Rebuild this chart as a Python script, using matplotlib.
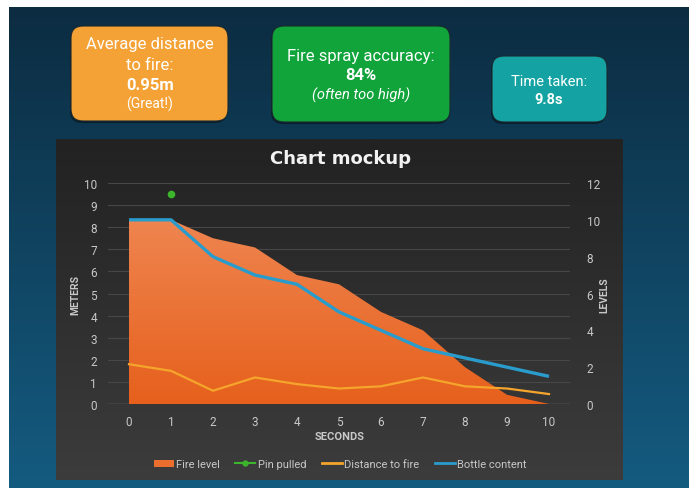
import numpy as np
import matplotlib
matplotlib.use('Agg')
import matplotlib.pyplot as plt
from matplotlib.colors import LinearSegmentedColormap
from matplotlib.patches import FancyBboxPatch, Patch
from matplotlib.lines import Line2D

plt.rcParams['font.family'] = ['Roboto', 'DejaVu Sans']

W, H = 689, 489

seconds = list(range(11))
fire_level = [10, 10, 9, 8.5, 7, 6.5, 5, 4, 2, 0.5, 0]          # right axis (levels)
bottle_content = [10, 10, 8, 7, 6.5, 5, 4, 3, 2.5, 2, 1.5]      # right axis (levels)
distance_to_fire = [1.8, 1.5, 0.6, 1.2, 0.9, 0.7, 0.8, 1.2, 0.8, 0.7, 0.45]  # left axis (m)
pin_seconds = [1]
pin_meters = [9.5]

left_ticks = list(range(0, 11))
right_ticks = list(range(0, 13, 2))

TEXT = '#c8c8c8'
ORANGE_BOX = '#f4a236'
GREEN_BOX = '#10a43b'
TEAL_BOX = '#14a3a2'
FIRE_TOP = '#ef8550'
FIRE_BOT = '#e6601c'
BOTTLE = '#2a9ccc'
DIST = '#f5a52c'
PIN = '#3cb52c'


def px_rect(x0, y0, x1, y1):
    return [x0 / W, 1 - y1 / H, (x1 - x0) / W, (y1 - y0) / H]


fig = plt.figure(figsize=(W / 100, H / 100), dpi=100)
fig.patch.set_facecolor('white')

grad = np.linspace(0, 1, 256).reshape(-1, 1)

# page background
bg = fig.add_axes(px_rect(9, 8, 689, 489), zorder=0)
bg.axis('off')
bg.imshow(grad, aspect='auto', origin='upper', extent=[0, 1, 0, 1],
          cmap=LinearSegmentedColormap.from_list('bg', ['#0c2c41', '#145b80']))

# dark chart panel
panel = fig.add_axes(px_rect(56, 140, 623, 481), zorder=1)
panel.axis('off')
panel.imshow(grad, aspect='auto', origin='upper', extent=[0, 1, 0, 1],
             cmap=LinearSegmentedColormap.from_list('pn', ['#222222', '#3c3c3c']))

# overlay in pixel coords for boxes and free text
ov = fig.add_axes([0, 0, 1, 1], zorder=2)
ov.set_xlim(0, W)
ov.set_ylim(H, 0)
ov.axis('off')
ov.patch.set_visible(False)


def kpi_box(x0, y0, x1, y1, color):
    shadow = FancyBboxPatch((x0 - 1, y0 + 2), x1 - x0, y1 - y0,
                            boxstyle='round,pad=0,rounding_size=12',
                            facecolor='#07141d', edgecolor='none', alpha=0.7)
    ov.add_patch(shadow)
    box = FancyBboxPatch((x0, y0), x1 - x0, y1 - y0,
                         boxstyle='round,pad=0,rounding_size=12',
                         facecolor=color, edgecolor='#1b2a30', linewidth=0.8)
    ov.add_patch(box)


kpi_box(71, 27, 228, 122, ORANGE_BOX)
kpi_box(272, 27, 450, 123, GREEN_BOX)
kpi_box(492, 57, 607, 123, TEAL_BOX)

ov.text(150, 45, 'Average distance', color='white', fontsize=12, ha='center', va='center')
ov.text(150, 65, 'to fire:', color='white', fontsize=12, ha='center', va='center')
ov.text(150, 85, '0.95m', color='white', fontsize=12, fontweight='bold', ha='center', va='center')
ov.text(150, 104, '(Great!)', color='white', fontsize=10, ha='center', va='center')

ov.text(361, 56, 'Fire spray accuracy:', color='white', fontsize=12, ha='center', va='center')
ov.text(361, 76, '84%', color='white', fontsize=12, fontweight='bold', ha='center', va='center')
ov.text(361, 95, '(often too high)', color='white', fontsize=10.5, style='italic', ha='center', va='center')

ov.text(549, 82, 'Time taken:', color='white', fontsize=10.5, ha='center', va='center')
ov.text(549, 100, '9.8s', color='white', fontsize=10.5, fontweight='bold', ha='center', va='center')

ov.text(340, 159, 'Chart mockup', color='#f2f2f2', fontsize=13, fontweight='bold',
        family='DejaVu Sans', ha='center', va='center')
ov.text(75, 295, 'METERS', color=TEXT, fontsize=7.5, fontweight='bold', rotation=90, ha='center', va='center')
ov.text(604, 295, 'LEVELS', color=TEXT, fontsize=7.5, fontweight='bold', rotation=90, ha='center', va='center')
ov.text(340, 437, 'SECONDS', color=TEXT, fontsize=8, fontweight='bold', ha='center', va='center')

# --- chart axes ---
pos = px_rect(108, 184, 570, 405)

ax = fig.add_axes(pos, zorder=3)
ax.patch.set_visible(False)
ax.set_xlim(-0.5, 10.5)
ax.set_ylim(0, 10)
ax.set_xticks(seconds)
ax.set_yticks(left_ticks)
ax.grid(axis='y', color='#474747', linewidth=0.8)
ax.set_axisbelow(True)
for s in ax.spines.values():
    s.set_visible(False)
ax.axhline(0, color='#6e6e6e', linewidth=1)
ax.tick_params(length=0, colors=TEXT, labelsize=8.5)
ax.tick_params(axis='y', pad=8)
ax.tick_params(axis='x', pad=8)

ax2 = ax.twinx()
ax2.set_zorder(4)
ax2.patch.set_visible(False)
ax2.set_ylim(0, 12)
ax2.set_yticks(right_ticks)
for s in ax2.spines.values():
    s.set_visible(False)
ax2.tick_params(length=0, colors=TEXT, labelsize=8.5, pad=12)

fire = ax2.fill_between(seconds, fire_level, 0, facecolor='none', edgecolor='none')
fire_grad = ax2.imshow(grad, aspect='auto', origin='upper',
                       extent=[seconds[0], seconds[-1], 0, max(fire_level)],
                       cmap=LinearSegmentedColormap.from_list('fire', [FIRE_TOP, FIRE_BOT]))
fire_grad.set_clip_path(fire.get_paths()[0], transform=ax2.transData)
ax2.plot(seconds, bottle_content, color=BOTTLE, linewidth=2.4, solid_capstyle='butt')
ax2.set_xlim(-0.5, 10.5)
ax2.set_ylim(0, 12)

ax3 = fig.add_axes(pos, zorder=5, sharex=ax, sharey=ax)
ax3.axis('off')
ax3.patch.set_visible(False)
ax3.plot(seconds, distance_to_fire, color=DIST, linewidth=1.6)
ax3.plot(pin_seconds, pin_meters, 'o', color=PIN, markersize=4.5)

handles = [
    Patch(facecolor='#ec6e2e', edgecolor='none', label='Fire level'),
    Line2D([], [], color=PIN, marker='o', markersize=3.5, linewidth=1.5, label='Pin pulled'),
    Line2D([], [], color=DIST, linewidth=2, label='Distance to fire'),
    Line2D([], [], color=BOTTLE, linewidth=2, label='Bottle content'),
]
fig.legend(handles=handles, loc='center', bbox_to_anchor=(340 / W, 1 - 465 / H), ncol=4,
           frameon=False, fontsize=8, labelcolor=TEXT, handlelength=1.8, handleheight=0.6,
           handletextpad=0.2, columnspacing=1.4)

fig.savefig('out.png', dpi=100, facecolor='white')
